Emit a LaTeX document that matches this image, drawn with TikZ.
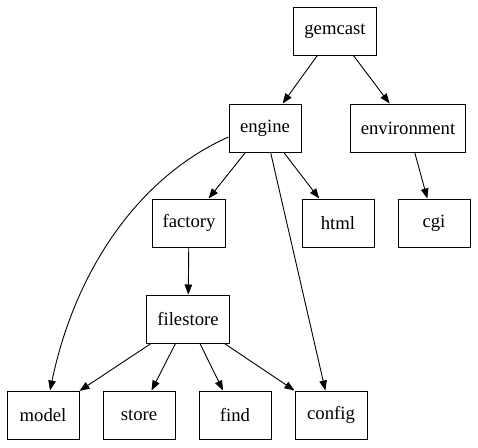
\documentclass[tikz,border=0pt]{standalone}
\usepackage{fontspec}
\setmainfont{Liberation Serif}
\usetikzlibrary{arrows.meta}

\begin{document}
\begin{tikzpicture}[x=1pt,y=-1pt,
  mod/.style={draw,line width=1pt,minimum width=72pt,minimum height=48pt,
    inner xsep=10.5pt,font=\fontsize{18.7}{22}\selectfont},
  dep/.style={line width=0.9pt,-{Triangle[length=10pt,width=7.5pt]}}]

\useasboundingbox (0,0) rectangle (478,447);

\node[mod] (gemcast) at (335,31) {gemcast};
\node[mod] (engine) at (265,128) {engine};
\node[mod] (environment) at (408,128) {environment};
\node[mod] (factory) at (189,223) {factory};
\node[mod] (html) at (338,223) {html};
\node[mod] (cgi) at (434,223) {cgi};
\node[mod] (filestore) at (188,319) {filestore};
\node[mod] (model) at (43,415) {model};
\node[mod] (store) at (139,415) {store};
\node[mod] (find) at (235,415) {find};
\node[mod] (config) at (331,415) {config};

\draw[dep] (gemcast) -- (engine);
\draw[dep] (gemcast) -- (environment);
\draw[dep] (engine) -- (factory);
\draw[dep] (engine) -- (html);
\draw[dep] ([yshift=-9pt]engine.west) .. controls +(-90,40) and +(25,-120) .. ([xshift=7pt]model.north);
\draw[dep] (engine) -- (config);
\draw[dep] (environment) -- (cgi);
\draw[dep] (factory) -- (filestore);
\draw[dep] (filestore) -- (model);
\draw[dep] (filestore) -- (store);
\draw[dep] (filestore) -- (find);
\draw[dep] (filestore) -- (config);

\end{tikzpicture}
\end{document}
